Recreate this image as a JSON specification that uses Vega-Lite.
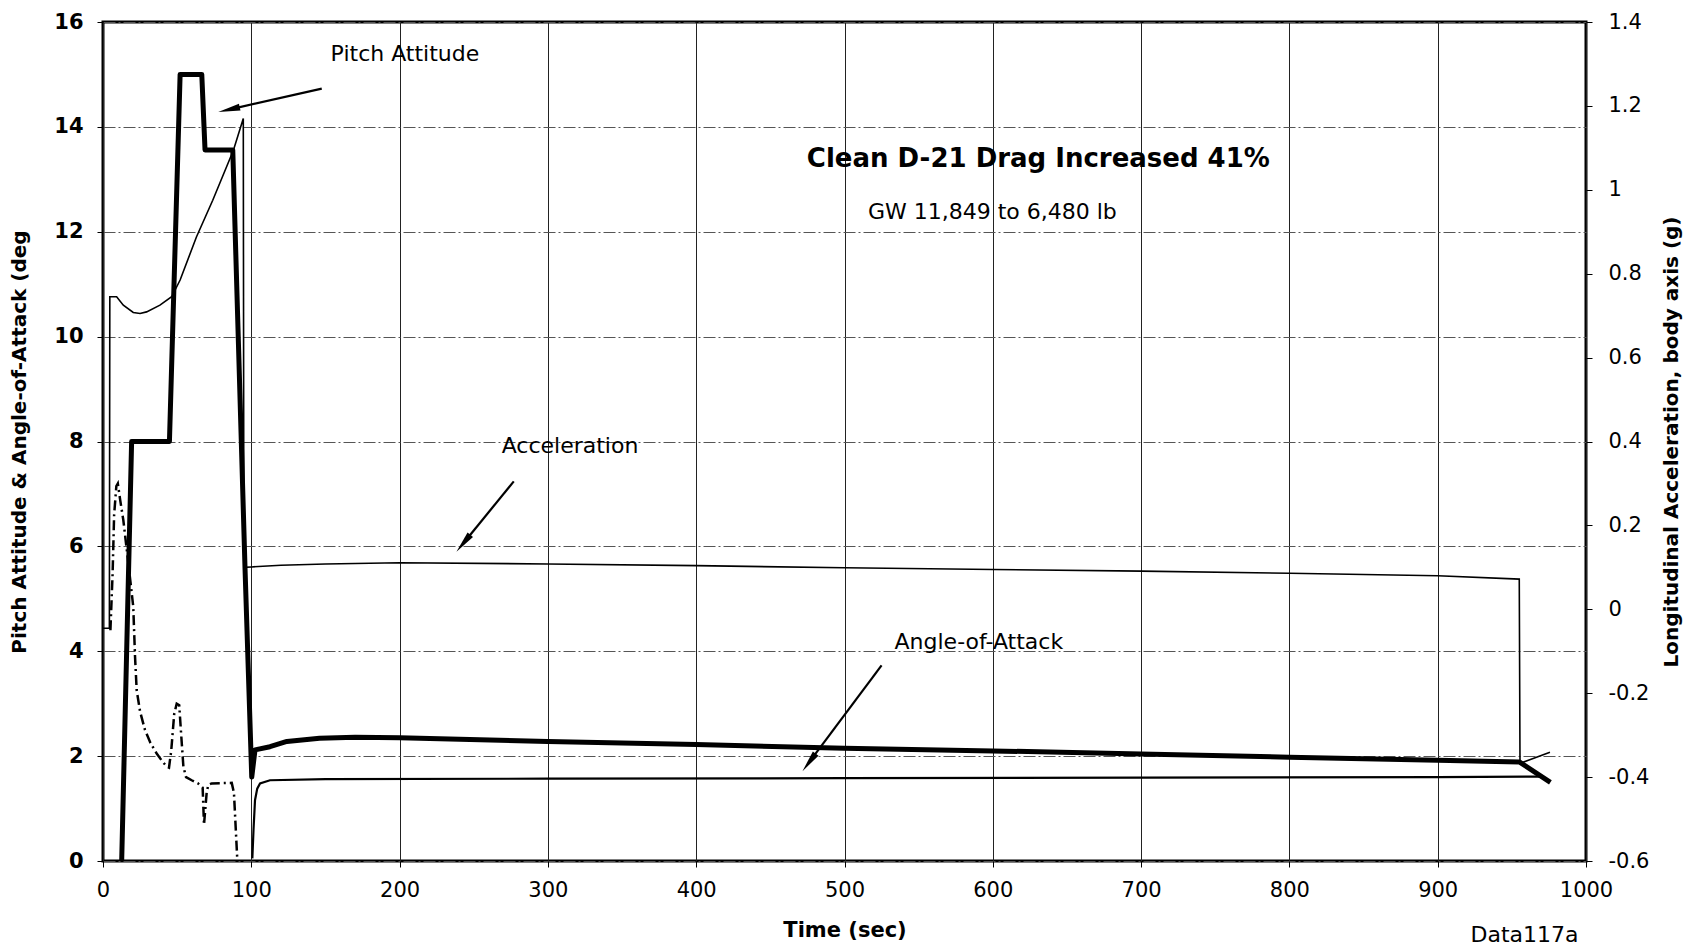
{
  "$schema": "https://vega.github.io/schema/vega-lite/v6.json",
  "width": 1483,
  "height": 839,
  "autosize": {"type": "none"},
  "padding": {"left": 103, "top": 22, "right": 110, "bottom": 89},
  "background": "white",
  "config": {
    "font": "DejaVu Sans",
    "view": {"stroke": "black", "strokeWidth": 3},
    "axis": {"labelColor": "black", "titleColor": "black", "tickColor": "black", "domain": false}
  },
  "datasets": {
    "pitch": [
      {"t": 12.6, "v": 0}, {"t": 19.3, "v": 8.0}, {"t": 44.8, "v": 8.0}, {"t": 52.0, "v": 15.0},
      {"t": 66.6, "v": 15.0}, {"t": 68.8, "v": 13.56}, {"t": 87.5, "v": 13.56}, {"t": 95.8, "v": 5.55},
      {"t": 100.3, "v": 1.6}, {"t": 102.5, "v": 2.12}, {"t": 112.6, "v": 2.18}, {"t": 124, "v": 2.28},
      {"t": 146, "v": 2.34}, {"t": 170, "v": 2.36}, {"t": 200, "v": 2.35}, {"t": 300, "v": 2.28},
      {"t": 400, "v": 2.22}, {"t": 500, "v": 2.15}, {"t": 600, "v": 2.1}, {"t": 700, "v": 2.04},
      {"t": 800, "v": 1.98}, {"t": 900, "v": 1.92}, {"t": 955, "v": 1.89}, {"t": 976, "v": 1.5}
    ],
    "aoa1": [
      {"t": 5.0, "v": 4.4}, {"t": 6.5, "v": 5.5}, {"t": 7.5, "v": 6.6}, {"t": 9.0, "v": 7.15},
      {"t": 10.0, "v": 7.2}, {"t": 11.5, "v": 6.9}, {"t": 13.7, "v": 6.5}, {"t": 17.0, "v": 5.7},
      {"t": 20.4, "v": 4.85}, {"t": 21.6, "v": 3.9}, {"t": 22.7, "v": 3.26}, {"t": 25.0, "v": 2.85},
      {"t": 28.3, "v": 2.5}, {"t": 32.0, "v": 2.25}, {"t": 36.2, "v": 2.05}, {"t": 40.0, "v": 1.9},
      {"t": 43.0, "v": 1.8}, {"t": 44.5, "v": 1.78}, {"t": 46.0, "v": 2.1}, {"t": 48.0, "v": 2.8},
      {"t": 49.7, "v": 3.0}, {"t": 51.4, "v": 2.97}, {"t": 52.5, "v": 2.5}, {"t": 54.2, "v": 1.8},
      {"t": 56.0, "v": 1.6}, {"t": 59.8, "v": 1.54}, {"t": 64.0, "v": 1.48}, {"t": 67.2, "v": 1.4},
      {"t": 68.1, "v": 0.69}, {"t": 69.9, "v": 1.3}, {"t": 71.0, "v": 1.45}, {"t": 73.3, "v": 1.48},
      {"t": 86.8, "v": 1.49}, {"t": 88.3, "v": 1.3}, {"t": 90.6, "v": 0}
    ],
    "aoa2": [
      {"t": 100.7, "v": 0.05}, {"t": 101.5, "v": 0.6}, {"t": 102.5, "v": 1.16}, {"t": 104, "v": 1.38},
      {"t": 105.9, "v": 1.48}, {"t": 112.6, "v": 1.54}, {"t": 150, "v": 1.56}, {"t": 300, "v": 1.57},
      {"t": 500, "v": 1.58}, {"t": 700, "v": 1.59}, {"t": 900, "v": 1.6}, {"t": 971, "v": 1.61}
    ],
    "accel": [
      {"t": 0, "g": -0.045}, {"t": 4.3, "g": -0.045}, {"t": 4.6, "g": 0.745}, {"t": 9.2, "g": 0.745},
      {"t": 13.7, "g": 0.725}, {"t": 20.4, "g": 0.7075}, {"t": 25.0, "g": 0.705}, {"t": 29.4, "g": 0.709},
      {"t": 38.4, "g": 0.725}, {"t": 46.3, "g": 0.745}, {"t": 52.0, "g": 0.785}, {"t": 63.0, "g": 0.8875},
      {"t": 74.0, "g": 0.975}, {"t": 88.0, "g": 1.095}, {"t": 94.6, "g": 1.17}, {"t": 95.0, "g": 0.1},
      {"t": 100, "g": 0.101}, {"t": 120, "g": 0.105}, {"t": 150, "g": 0.108}, {"t": 200, "g": 0.111},
      {"t": 300, "g": 0.108}, {"t": 400, "g": 0.104}, {"t": 500, "g": 0.099}, {"t": 600, "g": 0.095},
      {"t": 700, "g": 0.091}, {"t": 800, "g": 0.086}, {"t": 900, "g": 0.08}, {"t": 955, "g": 0.072},
      {"t": 955.5, "g": -0.367}, {"t": 975.7, "g": -0.341}
    ],
    "labels": [
      {"kind": "note", "text": "Pitch Attitude", "t": 203.6, "v": 15.39},
      {"kind": "note", "text": "Acceleration", "t": 314.9, "v": 7.92},
      {"kind": "note", "text": "Angle-of-Attack", "t": 590.6, "v": 4.17},
      {"kind": "title", "text": "Clean D-21 Drag Increased 41%", "t": 630.7, "v": 13.39},
      {"kind": "sub", "text": "GW 11,849 to 6,480 lb", "t": 599.7, "v": 12.38},
      {"kind": "id", "text": "Data117a", "t": 958.5, "v": -1.42}
    ],
    "arrows": [
      {"name": "pitch", "t": 147.5, "v": 14.73, "t2": 84.96, "v2": 14.33},
      {"name": "accel", "t": 277.0, "v": 7.24, "t2": 243.0, "v2": 6.06},
      {"name": "aoa", "t": 525.0, "v": 3.73, "t2": 476.1, "v2": 1.88}
    ]
  },
  "layer": [
    {
      "layer": [
        {
          "data": {"name": "pitch"},
          "mark": {"type": "line", "color": "black", "strokeWidth": 5, "strokeJoin": "round"},
          "encoding": {
            "x": {"field": "t", "type": "quantitative",
              "scale": {"domain": [0, 1000], "nice": false, "zero": false},
              "axis": {"values": [0,100,200,300,400,500,600,700,800,900,1000], "format": "d", "grid": true, "gridColor": "#222", "gridWidth": 1,
                "tickSize": 6, "labelFontSize": 21, "labelPadding": 12, "labelFlush": false,
                "title": "Time (sec)", "titleFontSize": 21, "titleFontWeight": "bold", "titleY": 69, "titleBaseline": "middle"}},
            "y": {"field": "v", "type": "quantitative",
              "scale": {"domain": [0, 16], "nice": false, "zero": false},
              "axis": {"values": [0,2,4,6,8,10,12,14,16], "grid": true, "gridColor": "#555", "gridWidth": 1, "gridDash": [12, 3, 2, 3],
                "tickSize": 6, "labelFontSize": 21, "labelFontWeight": "bold", "labelPadding": 14,
                "title": "Pitch Attitude & Angle-of-Attack (deg", "titleFontSize": 20, "titleFontWeight": "bold",
                "titleX": -83.5, "titleBaseline": "middle"}}
          }
        },
        {
          "data": {"name": "aoa1"},
          "mark": {"type": "line", "color": "black", "strokeWidth": 2.5, "strokeDash": [10, 4, 2, 4]},
          "encoding": {
            "x": {"field": "t", "type": "quantitative"},
            "y": {"field": "v", "type": "quantitative"}
          }
        },
        {
          "data": {"name": "aoa2"},
          "mark": {"type": "line", "color": "black", "strokeWidth": 2.2},
          "encoding": {
            "x": {"field": "t", "type": "quantitative"},
            "y": {"field": "v", "type": "quantitative"}
          }
        },
        {
          "data": {"name": "arrows"},
          "mark": {"type": "rule", "color": "black", "strokeWidth": 2.2},
          "encoding": {
            "x": {"field": "t", "type": "quantitative"},
            "y": {"field": "v", "type": "quantitative"},
            "x2": {"field": "t2"},
            "y2": {"field": "v2"}
          }
        },
        {
          "data": {"name": "arrows"},
          "transform": [{"filter": "datum.name == 'pitch'"}],
          "mark": {"type": "point", "shape": "M0,-1L0.32,1L-0.32,1Z", "filled": true, "color": "black", "opacity": 1, "size": 484, "angle": 257},
          "encoding": {
            "x": {"field": "t2", "type": "quantitative"},
            "y": {"field": "v2", "type": "quantitative"}
          }
        },
        {
          "data": {"name": "arrows"},
          "transform": [{"filter": "datum.name == 'accel'"}],
          "mark": {"type": "point", "shape": "M0,-1L0.32,1L-0.32,1Z", "filled": true, "color": "black", "opacity": 1, "size": 484, "angle": 219},
          "encoding": {
            "x": {"field": "t2", "type": "quantitative"},
            "y": {"field": "v2", "type": "quantitative"}
          }
        },
        {
          "data": {"name": "arrows"},
          "transform": [{"filter": "datum.name == 'aoa'"}],
          "mark": {"type": "point", "shape": "M0,-1L0.32,1L-0.32,1Z", "filled": true, "color": "black", "opacity": 1, "size": 484, "angle": 217},
          "encoding": {
            "x": {"field": "t2", "type": "quantitative"},
            "y": {"field": "v2", "type": "quantitative"}
          }
        },
        {
          "data": {"name": "labels"},
          "transform": [{"filter": "datum.kind == 'note' || datum.kind == 'sub' || datum.kind == 'id'"}],
          "mark": {"type": "text", "fontSize": 22, "color": "black", "align": "center", "baseline": "middle"},
          "encoding": {
            "x": {"field": "t", "type": "quantitative"},
            "y": {"field": "v", "type": "quantitative"},
            "text": {"field": "text"}
          }
        },
        {
          "data": {"name": "labels"},
          "transform": [{"filter": "datum.kind == 'title'"}],
          "mark": {"type": "text", "fontSize": 26, "fontWeight": "bold", "color": "black", "align": "center", "baseline": "middle"},
          "encoding": {
            "x": {"field": "t", "type": "quantitative"},
            "y": {"field": "v", "type": "quantitative"},
            "text": {"field": "text"}
          }
        }
      ]
    },
    {
      "data": {"name": "accel"},
      "mark": {"type": "line", "color": "black", "strokeWidth": 1.6},
      "encoding": {
        "x": {"field": "t", "type": "quantitative"},
        "y": {"field": "g", "type": "quantitative",
          "scale": {"domain": [-0.6, 1.4], "nice": false, "zero": false},
          "axis": {"orient": "right", "values": [-0.6,-0.4,-0.2,0,0.2,0.4,0.6,0.8,1,1.2,1.4],
            "labelExpr": "'' + round(datum.value * 10) / 10", "grid": false,
            "tickSize": 6, "labelFontSize": 21, "labelPadding": 16,
            "title": "Longitudinal Acceleration, body axis (g)", "titleFontSize": 20, "titleFontWeight": "bold",
            "titleAngle": -90, "titleX": 85, "titleBaseline": "middle"}}
      }
    }
  ],
  "resolve": {"scale": {"y": "independent"}, "axis": {"y": "independent"}}
}
